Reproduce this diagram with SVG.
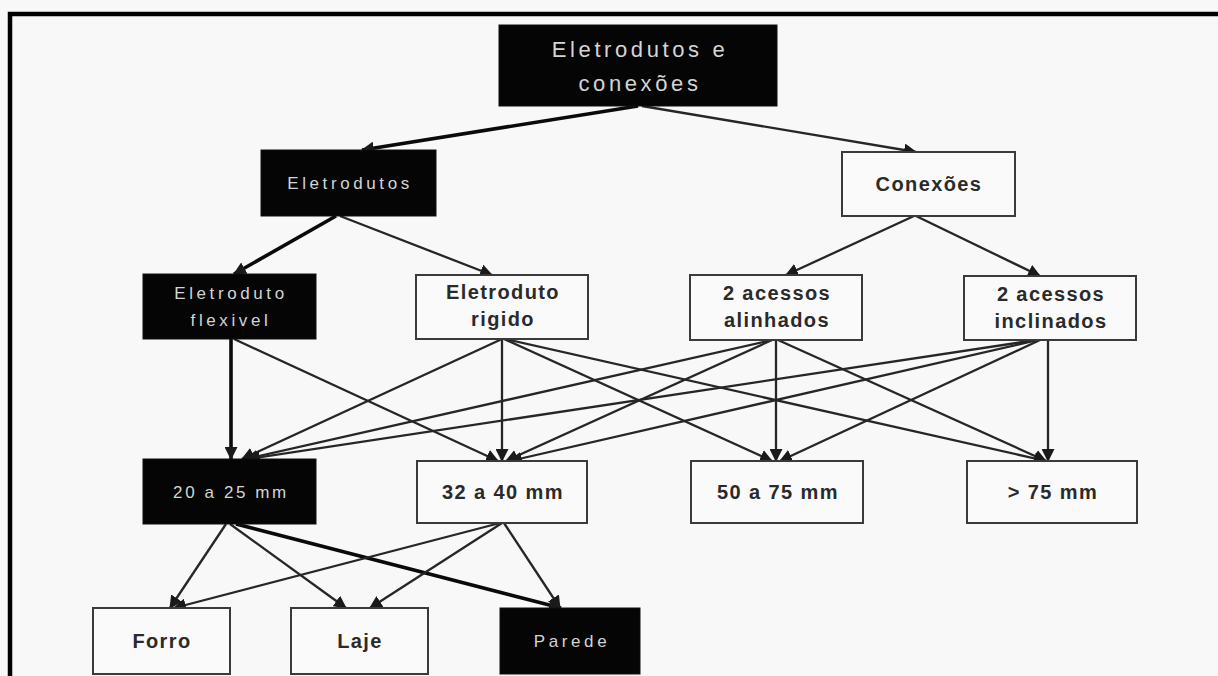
<svg xmlns="http://www.w3.org/2000/svg" width="1218" height="676" viewBox="0 0 1218 676">
<style>
.dark rect{fill:#050505;stroke:#111;stroke-width:1}
.light rect{fill:#fafafa;stroke:#3a3a3a;stroke-width:2}
.dark text{fill:#d4d4d4;font-family:"Liberation Sans",Arial,sans-serif;font-size:17px;letter-spacing:3.6px;text-anchor:middle}
.light text{fill:#2a2a2a;font-family:"Liberation Sans",Arial,sans-serif;font-size:20px;font-weight:bold;letter-spacing:1.4px;text-anchor:middle}
#edges line{stroke:#262626;stroke-width:2.3}
#edges line.thick{stroke:#0a0a0a;stroke-width:3.6}
</style>
<defs>
<marker id="ah" viewBox="0 0 12 12" refX="11" refY="6" markerWidth="13" markerHeight="13" markerUnits="userSpaceOnUse" orient="auto">
<path d="M0,0 L12,6 L0,12 z" fill="#1a1a1a"/>
</marker>
</defs>
<rect x="0" y="0" width="1218" height="676" fill="#f8f8f8"/>
<rect id="frame" x="10" y="14" width="1230" height="700" fill="none" stroke="#000" stroke-width="4.5"/>
<g id="edges">
<line class="thick" x1="638" y1="106" x2="362" y2="150" marker-end="url(#ah)"/>
<line x1="642" y1="106" x2="916" y2="152" marker-end="url(#ah)"/>
<line class="thick" x1="336" y1="216" x2="234" y2="274" marker-end="url(#ah)"/>
<line x1="340" y1="216" x2="492" y2="275" marker-end="url(#ah)"/>
<line x1="914" y1="216" x2="786" y2="275" marker-end="url(#ah)"/>
<line x1="916" y1="216" x2="1040" y2="276" marker-end="url(#ah)"/>
<line class="thick" x1="231" y1="339" x2="231" y2="459" marker-end="url(#ah)"/>
<line x1="234" y1="339" x2="498" y2="461" marker-end="url(#ah)"/>
<line x1="502" y1="339" x2="242" y2="459" marker-end="url(#ah)"/>
<line x1="502" y1="339" x2="502" y2="461" marker-end="url(#ah)"/>
<line x1="504" y1="339" x2="772" y2="461" marker-end="url(#ah)"/>
<line x1="505" y1="339" x2="1046" y2="461" marker-end="url(#ah)"/>
<line x1="772" y1="340" x2="246" y2="459" marker-end="url(#ah)"/>
<line x1="772" y1="340" x2="506" y2="461" marker-end="url(#ah)"/>
<line x1="776" y1="340" x2="776" y2="461" marker-end="url(#ah)"/>
<line x1="778" y1="340" x2="1046" y2="461" marker-end="url(#ah)"/>
<line x1="1036" y1="340" x2="248" y2="459" marker-end="url(#ah)"/>
<line x1="1038" y1="340" x2="510" y2="461" marker-end="url(#ah)"/>
<line x1="1040" y1="340" x2="780" y2="461" marker-end="url(#ah)"/>
<line x1="1048" y1="340" x2="1048" y2="461" marker-end="url(#ah)"/>
<line x1="226" y1="524" x2="170" y2="608" marker-end="url(#ah)"/>
<line x1="230" y1="524" x2="346" y2="608" marker-end="url(#ah)"/>
<line class="thick" x1="236" y1="524" x2="561" y2="608" marker-end="url(#ah)"/>
<line x1="500" y1="523" x2="174" y2="608" marker-end="url(#ah)"/>
<line x1="502" y1="523" x2="370" y2="608" marker-end="url(#ah)"/>
<line x1="504" y1="523" x2="560" y2="608" marker-end="url(#ah)"/>
</g>
<g id="n-root" class="dark">
<rect x="499" y="25" width="278" height="81"/>
<text x="640" y="57" style="font-size:22px;letter-spacing:3.6px">Eletrodutos e</text>
<text x="640" y="91" style="font-size:22px;letter-spacing:3.6px">conexões</text>
</g>
<g id="n-eletrodutos" class="dark">
<rect x="261" y="150" width="175" height="66"/>
<text x="350" y="189">Eletrodutos</text>
</g>
<g id="n-conexoes" class="light">
<rect x="842" y="152" width="173" height="64"/>
<text x="929" y="191">Conexões</text>
</g>
<g id="n-flexivel" class="dark">
<rect x="143" y="274" width="173" height="65"/>
<text x="231" y="299">Eletroduto</text>
<text x="231" y="326">flexivel</text>
</g>
<g id="n-rigido" class="light">
<rect x="416" y="275" width="172" height="64"/>
<text x="503" y="299">Eletroduto</text>
<text x="503" y="326">rigido</text>
</g>
<g id="n-alinhados" class="light">
<rect x="690" y="275" width="172" height="65"/>
<text x="777" y="300">2 acessos</text>
<text x="777" y="327">alinhados</text>
</g>
<g id="n-inclinados" class="light">
<rect x="964" y="276" width="172" height="64"/>
<text x="1051" y="301">2 acessos</text>
<text x="1051" y="328">inclinados</text>
</g>
<g id="n-20a25" class="dark">
<rect x="143" y="459" width="173" height="65"/>
<text x="231" y="498" style="letter-spacing:2.6px">20 a 25 mm</text>
</g>
<g id="n-32a40" class="light">
<rect x="417" y="461" width="170" height="62"/>
<text x="503" y="499">32 a 40 mm</text>
</g>
<g id="n-50a75" class="light">
<rect x="691" y="461" width="172" height="62"/>
<text x="778" y="499">50 a 75 mm</text>
</g>
<g id="n-gt75" class="light">
<rect x="967" y="461" width="170" height="62"/>
<text x="1053" y="499">&gt; 75 mm</text>
</g>
<g id="n-forro" class="light">
<rect x="93" y="608" width="137" height="66"/>
<text x="162" y="648">Forro</text>
</g>
<g id="n-laje" class="light">
<rect x="291" y="608" width="137" height="66"/>
<text x="360" y="648">Laje</text>
</g>
<g id="n-parede" class="dark">
<rect x="500" y="608" width="140" height="66"/>
<text x="572" y="647">Parede</text>
</g>
</svg>
